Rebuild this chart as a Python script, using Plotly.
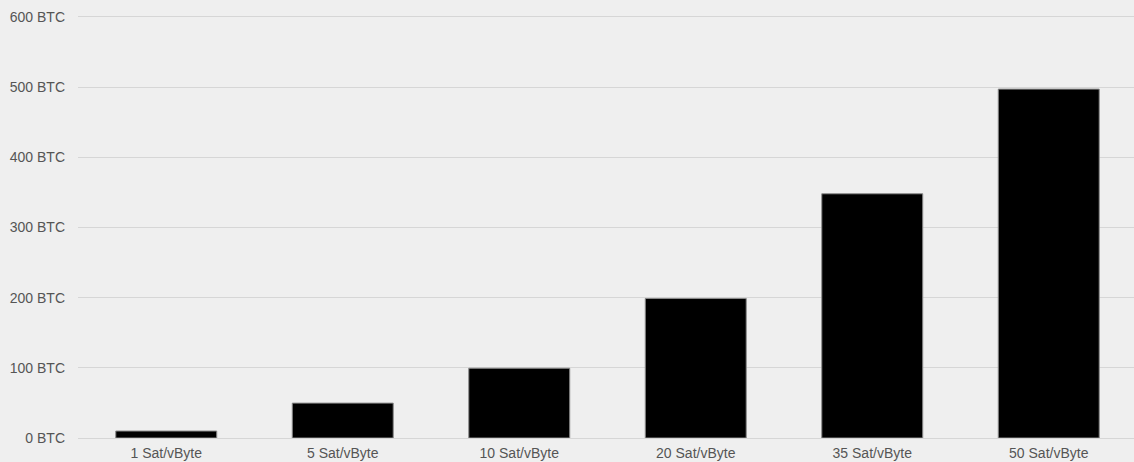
import plotly.graph_objects as go

categories = ["1 Sat/vByte", "5 Sat/vByte", "10 Sat/vByte", "20 Sat/vByte", "35 Sat/vByte", "50 Sat/vByte"]
values = [9.94, 49.7, 99.4, 198.8, 347.9, 497.0]
tick_vals = [0, 100, 200, 300, 400, 500, 600]
tick_text = ["0 BTC", "100 BTC", "200 BTC", "300 BTC", "400 BTC", "500 BTC", "600 BTC"]

fig = go.Figure(go.Bar(
    x=categories, y=values,
    marker=dict(color="#000000", line=dict(color="#8a8a8a", width=1)),
    hoverinfo="x+y",
))

fig.update_layout(
    width=1134, height=462,
    margin=dict(l=78, r=0, t=14, b=24),
    paper_bgcolor="#efefef", plot_bgcolor="#efefef",
    bargap=0.428,
    showlegend=False,
    font=dict(family="Liberation Sans, Arial, sans-serif", size=14, color="#555555"),
)
fig.update_xaxes(
    range=[-0.5, 5.483], showgrid=False, zeroline=False, showline=False,
    ticks="", tickfont=dict(size=14, color="#555555"), ticklabelstandoff=5,
)
fig.update_yaxes(
    range=[0, 604], tickvals=tick_vals, ticktext=tick_text,
    showgrid=True, gridcolor="#d6d6d6", gridwidth=1,
    zeroline=True, zerolinecolor="#d6d6d6", zerolinewidth=1,
    showline=False, ticks="", ticklabelstandoff=12,
    tickfont=dict(size=14, color="#555555"),
)

fig.write_html("out.html")
